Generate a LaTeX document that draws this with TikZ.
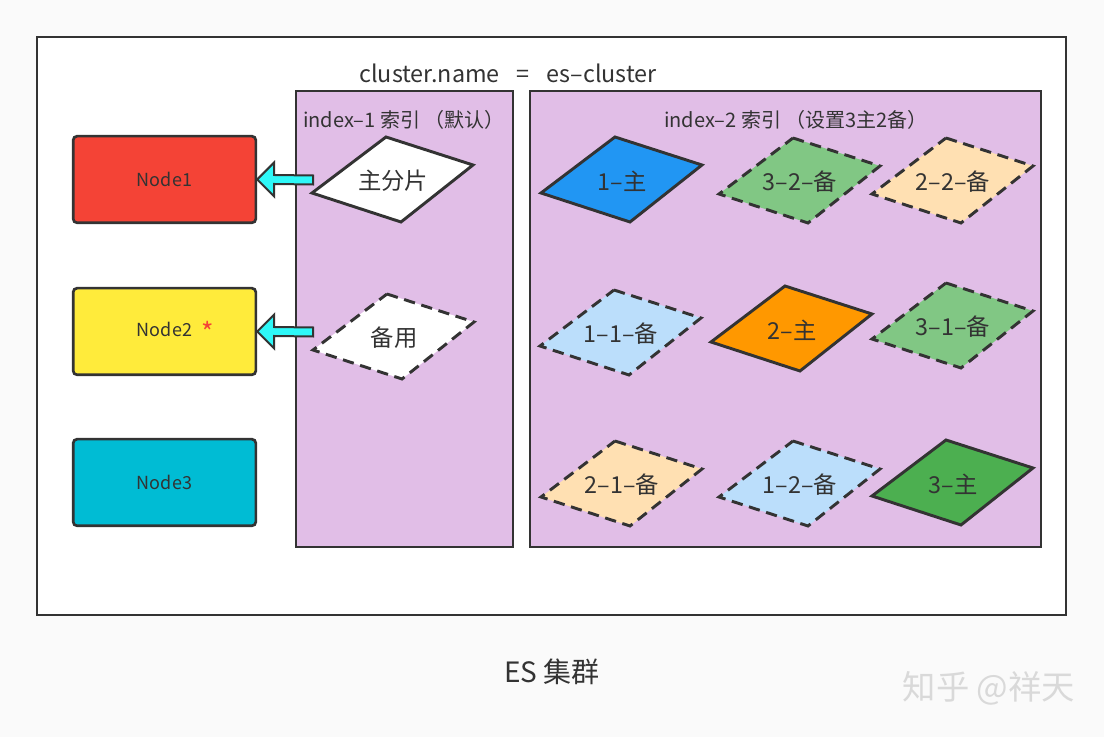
\documentclass[tikz,border=0pt]{standalone}
\usepackage{fontspec}
\setmainfont{Noto Sans CJK SC}
\usetikzlibrary{calc}
\definecolor{bgc}{HTML}{FAFAFA}
\definecolor{edge}{HTML}{333333}
\definecolor{txt}{HTML}{333333}
\definecolor{lav}{HTML}{E1BEE7}
\definecolor{nred}{HTML}{F44336}
\definecolor{nyel}{HTML}{FFEB3B}
\definecolor{ncyan}{HTML}{00BCD4}
\definecolor{sblue}{HTML}{2196F3}
\definecolor{sgreen}{HTML}{81C784}
\definecolor{speach}{HTML}{FFE0B2}
\definecolor{slblue}{HTML}{BBDEFB}
\definecolor{sorange}{HTML}{FF9800}
\definecolor{sdgreen}{HTML}{4CAF50}
\definecolor{arrc}{HTML}{2EF8F8}
\definecolor{wm}{HTML}{D9D9D9}
\definecolor{starc}{HTML}{F44336}
\tikzset{
  nodebox/.style={draw=edge, line width=2pt, rounded corners=3pt, minimum width=137pt, minimum height=65pt, inner sep=0pt, text=txt, font=\fontsize{13.5}{15}\selectfont},
  idxbox/.style={draw=edge, line width=2pt, fill=lav},
  shardline/.style={draw=edge, line width=2.2pt, line join=miter},
  dashline/.style={dash pattern=on 8.5pt off 5pt},
  shardtext/.style={text=txt, font=\fontsize{17.5}{19}\selectfont, inner sep=0pt},
  lbl/.style={text=txt, inner sep=0pt, font=\fontsize{15}{17}\selectfont},
  fatarrow/.style={draw=edge, line width=1.5pt, fill=arrc, line join=miter}
}
\newcommand\mkshard[5]{%
  \draw[shardline,#4,fill=#3] ($(#2)+(-7,-42)$) -- ($(#2)+(80,-14)$) -- ($(#2)+(8,43)$) -- ($(#2)+(-81,14)$) -- cycle;
  \node[shardtext] (#1) at ($(#2)+(0,2)$) {#5};}
\begin{document}
\begin{tikzpicture}[x=0.75pt,y=-0.75pt]
\useasboundingbox (0,0) rectangle (1104,737);
\fill[bgc] (0,0) rectangle (1104,737);
% outer frame
\node[draw=edge, line width=1.6pt, fill=white, minimum width=771.75pt, minimum height=433.5pt, inner sep=0pt] (frame) at (551.5,326) {};
\node[text=txt, inner sep=0pt, font=\fontsize{17.5}{19}\selectfont] (title) at (508,73) {cluster.name\enspace\ =\ \enspace es–cluster};
% index boxes
\node[idxbox, minimum width=162.75pt, minimum height=342pt, inner sep=0pt] (idx1) at (404.5,319) {};
\node[idxbox, minimum width=383.25pt, minimum height=342pt, inner sep=0pt] (idx2) at (785.5,319) {};
\node[lbl] (idx1l) at (404,120) {index–1 索引 （默认）};
\node[lbl] (idx2l) at (796,120) {index–2 索引 （设置3主2备）};
% cluster nodes
\node[nodebox, fill=nred] (n1) at (164.5,179.5) {Node1};
\node[nodebox, fill=nyel] (n2) at (164.5,331.5) {Node2\rlap{\enspace\raisebox{-0.55ex}{\textcolor{starc}{\fontsize{20}{20}\selectfont *}}}};
\node[nodebox, fill=ncyan] (n3) at (164.5,482.5) {Node3};
% index-1 shards
\mkshard{p1}{393,179}{white}{}{主分片}
\mkshard{b1}{394,336}{white}{dashline}{备用}
% index-2 shards
\mkshard{s1}{622,179}{sblue}{}{1–主}
\mkshard{s32}{800,180}{sgreen}{dashline}{3–2–备}
\mkshard{s22}{953,180}{speach}{dashline}{2–2–备}
\mkshard{s11}{621,332}{slblue}{dashline}{1–1–备}
\mkshard{s2}{792,328}{sorange}{}{2–主}
\mkshard{s31}{953,325}{sgreen}{dashline}{3–1–备}
\mkshard{s21}{622,483}{speach}{dashline}{2–1–备}
\mkshard{s12}{800,483}{slblue}{dashline}{1–2–备}
\mkshard{s3}{953,482}{sdgreen}{}{3–主}
% arrows
\coordinate (t1) at (313,180);
\coordinate (t2) at (313,332);
\draw[fatarrow] ($(t1)+(0,-4.5)$) -- ($(n1.east)+(17,-4.5)$) -- ($(n1.east)+(17,-17)$) -- (n1.east) -- ($(n1.east)+(17,17)$) -- ($(n1.east)+(17,4.5)$) -- ($(t1)+(0,4.5)$) -- cycle;
\draw[fatarrow] ($(t2)+(0,-4.5)$) -- ($(n2.east)+(17,-4.5)$) -- ($(n2.east)+(17,-17)$) -- (n2.east) -- ($(n2.east)+(17,17)$) -- ($(n2.east)+(17,4.5)$) -- ($(t2)+(0,4.5)$) -- cycle;
% captions
\node[text=txt, inner sep=0pt, font=\fontsize{21}{23}\selectfont] (cap) at (552,672) {ES 集群};
\node[text=wm, inner sep=0pt, font=\fontsize{25}{27}\selectfont] (wmk) at (989,688) {知乎 @祥天};
\end{tikzpicture}
\end{document}
